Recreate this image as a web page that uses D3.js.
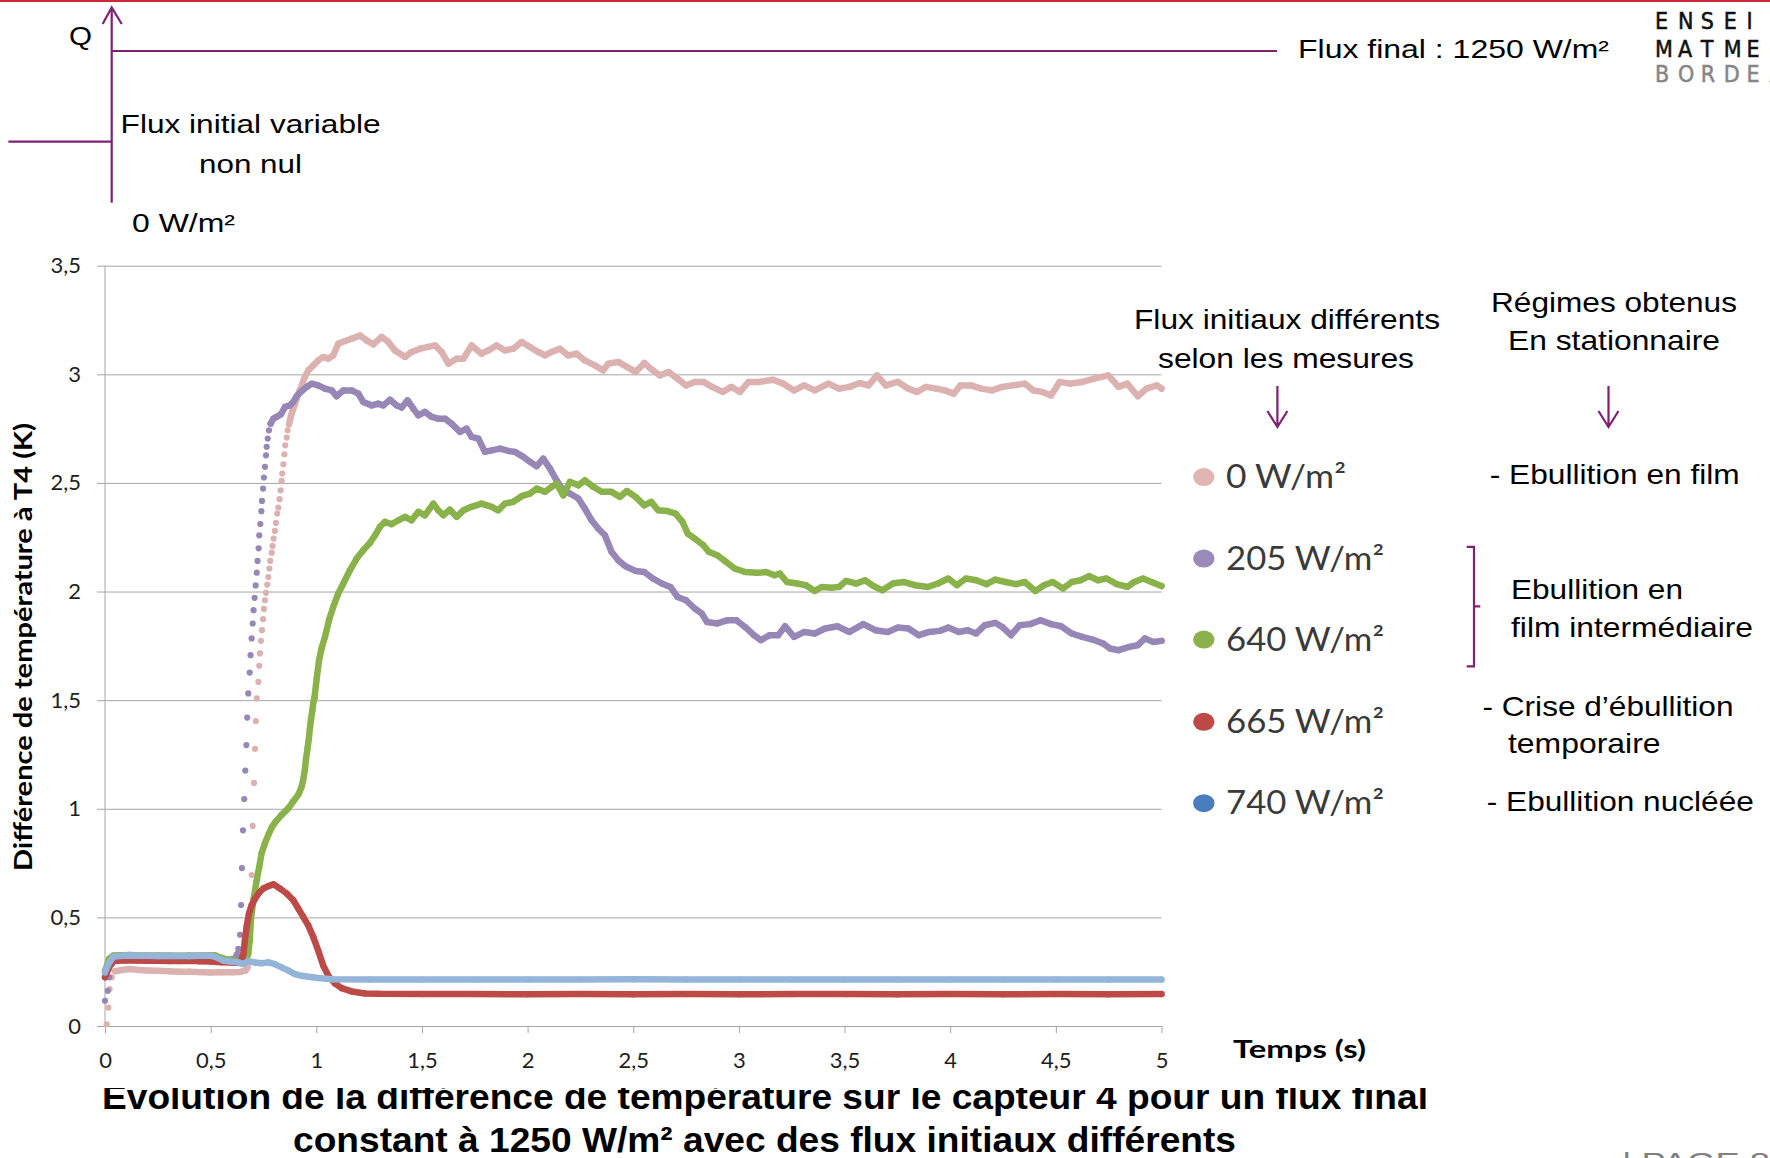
<!DOCTYPE html>
<html>
<head>
<meta charset="utf-8">
<script src="https://cdn.jsdelivr.net/npm/d3@7"></script>
<style>
  body { margin: 0; background: #fff; }
  svg { display: block; }
</style>
</head>
<body>
<svg id="slide" width="1770" height="1158"></svg>
<script>
// ---- values ----
var seriesNames = ["0 W/m²", "205 W/m²", "640 W/m²", "665 W/m²", "740 W/m²"];
var xTicks = [0, 0.5, 1, 1.5, 2, 2.5, 3, 3.5, 4, 4.5, 5];
var xTickLabels = ["0", "0,5", "1", "1,5", "2", "2,5", "3", "3,5", "4", "4,5", "5"];
var yTicks = [0, 0.5, 1, 1.5, 2, 2.5, 3, 3.5];
var yTickLabels = ["0", "0,5", "1", "1,5", "2", "2,5", "3", "3,5"];

// [time (s), dT (K)] -- continuous stretches of the trace
var flux0Trace = [[0.047,0.252],[0.08,0.258],[0.12,0.262],[0.16,0.258],[0.2,0.256],[0.25,0.254],[0.3,0.252],[0.35,0.25],[0.4,0.25],[0.45,0.248],[0.5,0.246],[0.55,0.247],[0.6,0.247],[0.64,0.249],[0.665,0.255],[0.675,0.27],
  [0.871,2.770],[0.877,2.794],[0.883,2.819],[0.891,2.842],[0.899,2.865],[0.907,2.888],[0.918,2.919],[0.931,2.949],[0.946,2.988],[0.962,3.018],[0.986,3.041],[1.009,3.064],[1.033,3.080],[1.057,3.072],[1.080,3.087],[1.104,3.141],[1.136,3.153],[1.167,3.164],[1.207,3.179],[1.238,3.156],[1.270,3.138],[1.309,3.172],[1.341,3.149],[1.372,3.110],[1.420,3.080],[1.451,3.103],[1.491,3.118],[1.530,3.126],[1.562,3.133],[1.593,3.103],[1.625,3.049],[1.664,3.072],[1.696,3.072],[1.735,3.133],[1.782,3.095],[1.814,3.110],[1.853,3.133],[1.893,3.110],[1.932,3.118],[1.972,3.149],[2.011,3.126],[2.050,3.103],[2.082,3.087],[2.114,3.103],[2.153,3.118],[2.192,3.087],[2.232,3.095],[2.271,3.064],[2.319,3.041],[2.358,3.018],[2.382,3.049],[2.429,3.057],[2.470,3.034],[2.511,3.011],[2.552,3.052],[2.593,3.018],[2.626,2.995],[2.667,3.011],[2.709,2.980],[2.750,2.949],[2.791,2.965],[2.832,2.965],[2.873,2.942],[2.923,2.919],[2.964,2.942],[3.005,2.919],[3.046,2.965],[3.095,2.965],[3.161,2.975],[3.210,2.957],[3.261,2.926],[3.309,2.949],[3.359,2.926],[3.424,2.957],[3.474,2.934],[3.523,2.942],[3.572,2.960],[3.613,2.949],[3.654,2.995],[3.695,2.949],[3.753,2.965],[3.802,2.934],[3.843,2.919],[3.885,2.942],[3.934,2.934],[3.975,2.926],[4.016,2.911],[4.049,2.949],[4.098,2.949],[4.148,2.934],[4.197,2.926],[4.246,2.942],[4.296,2.949],[4.353,2.957],[4.394,2.926],[4.435,2.919],[4.477,2.903],[4.518,2.965],[4.567,2.957],[4.625,2.965],[4.682,2.980],[4.748,2.995],[4.797,2.942],[4.838,2.957],[4.888,2.899],[4.929,2.934],[4.978,2.949],[5.0,2.934]];
// single samples where the signal jumps faster than the sampling
var flux0Dots = [[0.008,0.008],[0.016,0.085],[0.022,0.17],[0.032,0.224],[0.688,0.48],[0.694,0.695],[0.699,0.921],[0.705,1.119],[0.710,1.276],[0.714,1.404],[0.718,1.508],[0.726,1.584],[0.730,1.658],[0.733,1.715],[0.738,1.773],[0.743,1.822],[0.748,1.873],[0.752,1.920],[0.757,1.960],[0.762,1.994],[0.768,2.032],[0.773,2.067],[0.778,2.106],[0.782,2.141],[0.789,2.179],[0.793,2.210],[0.798,2.244],[0.804,2.279],[0.809,2.316],[0.815,2.359],[0.820,2.387],[0.826,2.425],[0.831,2.466],[0.836,2.509],[0.839,2.543],[0.844,2.586],[0.849,2.632],[0.853,2.673],[0.860,2.709],[0.864,2.742]];

var flux205Trace = [[0.032,0.285],[0.047,0.309],[0.08,0.315],[0.12,0.316],[0.16,0.314],[0.2,0.313],[0.25,0.312],[0.3,0.312],[0.35,0.311],[0.4,0.31],[0.45,0.31],[0.5,0.311],[0.55,0.31],[0.59,0.305],[0.615,0.31],[0.625,0.33],
  [0.784,2.773],[0.797,2.796],[0.812,2.804],[0.833,2.816],[0.852,2.850],[0.875,2.857],[0.891,2.873],[0.907,2.899],[0.931,2.923],[0.954,2.942],[0.978,2.957],[1.009,2.949],[1.041,2.934],[1.073,2.926],[1.096,2.899],[1.128,2.926],[1.167,2.926],[1.199,2.911],[1.222,2.873],[1.262,2.857],[1.293,2.865],[1.317,2.857],[1.349,2.883],[1.380,2.857],[1.404,2.847],[1.432,2.880],[1.459,2.842],[1.483,2.811],[1.514,2.827],[1.546,2.804],[1.577,2.796],[1.609,2.796],[1.640,2.773],[1.680,2.735],[1.711,2.750],[1.735,2.712],[1.767,2.704],[1.798,2.643],[1.830,2.650],[1.869,2.658],[1.909,2.647],[1.940,2.643],[1.980,2.620],[2.011,2.597],[2.043,2.577],[2.074,2.612],[2.106,2.566],[2.137,2.512],[2.169,2.466],[2.200,2.451],[2.240,2.428],[2.271,2.382],[2.303,2.328],[2.334,2.290],[2.366,2.259],[2.397,2.183],[2.429,2.144],[2.457,2.121],[2.470,2.113],[2.511,2.095],[2.552,2.090],[2.593,2.060],[2.635,2.037],[2.676,2.021],[2.709,1.975],[2.750,1.960],[2.791,1.922],[2.824,1.899],[2.849,1.860],[2.898,1.853],[2.947,1.868],[2.988,1.868],[3.029,1.837],[3.071,1.799],[3.104,1.776],[3.145,1.799],[3.186,1.799],[3.219,1.840],[3.261,1.791],[3.310,1.814],[3.359,1.807],[3.408,1.830],[3.466,1.840],[3.523,1.814],[3.589,1.850],[3.646,1.822],[3.704,1.814],[3.753,1.834],[3.802,1.830],[3.852,1.799],[3.901,1.814],[3.950,1.819],[3.991,1.834],[4.041,1.814],[4.082,1.822],[4.123,1.807],[4.164,1.845],[4.213,1.856],[4.246,1.837],[4.288,1.799],[4.329,1.845],[4.378,1.850],[4.428,1.868],[4.477,1.850],[4.526,1.840],[4.575,1.807],[4.625,1.791],[4.674,1.779],[4.723,1.761],[4.756,1.738],[4.797,1.730],[4.847,1.745],[4.888,1.753],[4.921,1.784],[4.962,1.768],[5.0,1.773]];
var flux205Dots = [[0.0,0.116],[0.013,0.162],[0.02,0.224],[0.631,0.355],[0.639,0.42],[0.644,0.557],[0.648,0.727],[0.653,0.901],[0.659,1.045],[0.664,1.176],[0.669,1.293],[0.673,1.42],[0.678,1.531],[0.685,1.627],[0.689,1.707],[0.694,1.784],[0.699,1.853],[0.703,1.914],[0.708,1.971],[0.713,2.028],[0.718,2.087],[0.722,2.141],[0.727,2.199],[0.730,2.259],[0.735,2.311],[0.740,2.370],[0.743,2.417],[0.748,2.474],[0.752,2.525],[0.757,2.574],[0.762,2.627],[0.765,2.666],[0.770,2.704],[0.776,2.742]];

var flux640Trace = [[0.0,0.255],[0.012,0.285],[0.019,0.309],[0.039,0.324],[0.08,0.326],[0.12,0.327],[0.16,0.325],[0.2,0.325],[0.25,0.324],[0.3,0.324],[0.35,0.323],[0.4,0.324],[0.45,0.324],[0.5,0.326],[0.52,0.325],[0.544,0.316],[0.584,0.304],[0.631,0.298],[0.662,0.293],[0.678,0.332],[0.685,0.394],[0.691,0.494],[0.702,0.579],[0.718,0.671],[0.730,0.733],[0.741,0.795],[0.757,0.841],[0.773,0.880],[0.789,0.914],[0.808,0.941],[0.836,0.972],[0.868,1.003],[0.891,1.034],[0.915,1.065],[0.931,1.103],[0.938,1.134],[0.946,1.181],[0.951,1.227],[0.959,1.281],[0.965,1.327],[0.970,1.373],[0.975,1.412],[0.981,1.451],[0.986,1.489],[0.991,1.508],[1.002,1.600],[1.013,1.684],[1.025,1.738],[1.041,1.791],[1.060,1.868],[1.080,1.929],[1.104,1.991],[1.128,2.037],[1.159,2.098],[1.191,2.152],[1.222,2.190],[1.254,2.224],[1.278,2.259],[1.301,2.298],[1.325,2.321],[1.356,2.310],[1.388,2.328],[1.420,2.344],[1.451,2.328],[1.483,2.367],[1.514,2.351],[1.554,2.405],[1.577,2.374],[1.601,2.351],[1.632,2.377],[1.664,2.344],[1.696,2.374],[1.735,2.390],[1.782,2.405],[1.830,2.390],[1.861,2.374],[1.893,2.405],[1.932,2.413],[1.972,2.439],[2.011,2.451],[2.043,2.474],[2.082,2.459],[2.114,2.482],[2.137,2.497],[2.169,2.443],[2.200,2.505],[2.240,2.489],[2.271,2.512],[2.311,2.482],[2.350,2.459],[2.397,2.459],[2.437,2.436],[2.470,2.463],[2.511,2.436],[2.552,2.397],[2.585,2.413],[2.618,2.374],[2.659,2.371],[2.700,2.359],[2.733,2.321],[2.758,2.267],[2.791,2.244],[2.832,2.213],[2.857,2.183],[2.898,2.167],[2.939,2.137],[2.980,2.106],[3.029,2.090],[3.087,2.086],[3.128,2.090],[3.169,2.075],[3.194,2.083],[3.227,2.044],[3.276,2.037],[3.317,2.029],[3.359,2.003],[3.392,2.021],[3.441,2.018],[3.474,2.021],[3.507,2.049],[3.556,2.037],[3.597,2.052],[3.638,2.025],[3.679,2.006],[3.729,2.037],[3.778,2.044],[3.835,2.029],[3.893,2.021],[3.942,2.037],[3.991,2.060],[4.032,2.029],[4.074,2.060],[4.123,2.052],[4.172,2.034],[4.213,2.055],[4.262,2.044],[4.312,2.034],[4.353,2.044],[4.403,2.003],[4.444,2.029],[4.485,2.044],[4.534,2.014],[4.575,2.044],[4.616,2.052],[4.658,2.071],[4.699,2.052],[4.740,2.060],[4.789,2.034],[4.838,2.021],[4.871,2.044],[4.912,2.060],[4.953,2.044],[5.0,2.025]];

var flux665Trace = [[0.0,0.224],[0.016,0.262],[0.032,0.293],[0.05,0.300],[0.1,0.302],[0.15,0.301],[0.2,0.300],[0.25,0.300],[0.3,0.299],[0.35,0.299],[0.4,0.300],[0.45,0.298],[0.5,0.297],[0.55,0.294],[0.6,0.292],[0.64,0.29],[0.655,0.332],[0.662,0.394],[0.670,0.455],[0.681,0.517],[0.694,0.556],[0.710,0.586],[0.729,0.613],[0.749,0.633],[0.773,0.644],[0.797,0.652],[0.828,0.633],[0.860,0.610],[0.891,0.579],[0.915,0.540],[0.938,0.502],[0.962,0.463],[0.986,0.409],[1.009,0.347],[1.033,0.278],[1.057,0.231],[1.088,0.196],[1.120,0.174],[1.167,0.159],[1.230,0.150],[1.3,0.148],[1.5,0.147],[1.75,0.147],[2.0,0.146],[2.25,0.147],[2.5,0.146],[2.75,0.147],[3.0,0.146],[3.25,0.147],[3.5,0.147],[3.75,0.146],[4.0,0.147],[4.25,0.146],[4.5,0.147],[4.75,0.146],[5.0,0.147]];

var flux740Trace = [[0.0,0.247],[0.016,0.285],[0.039,0.319],[0.08,0.323],[0.12,0.324],[0.16,0.323],[0.2,0.323],[0.25,0.322],[0.3,0.323],[0.35,0.322],[0.4,0.322],[0.45,0.323],[0.505,0.323],[0.536,0.313],[0.56,0.301],[0.6,0.296],[0.631,0.293],[0.655,0.285],[0.678,0.298],[0.71,0.292],[0.741,0.289],[0.773,0.293],[0.804,0.285],[0.836,0.270],[0.868,0.255],[0.899,0.239],[0.931,0.231],[0.962,0.227],[1.009,0.221],[1.073,0.215],[1.25,0.214],[1.5,0.214],[1.75,0.214],[2.0,0.214],[2.25,0.214],[2.5,0.215],[2.75,0.214],[3.0,0.214],[3.25,0.214],[3.5,0.214],[3.75,0.214],[4.0,0.214],[4.25,0.214],[4.5,0.214],[4.75,0.214],[5.0,0.214]];

var traces = [flux0Trace, flux205Trace, flux640Trace, flux665Trace, flux740Trace];
var samples = [flux0Dots, flux205Dots, [], [], []];
var regimes = ["- Ebullition en film", "Ebullition en", "film intermédiaire", "- Crise d’ébullition", "temporaire", "- Ebullition nucléée"];
var titleLines = ["Evolution de la différence de température sur le capteur 4 pour un flux final",
                  "constant à 1250 W/m² avec des flux initiaux différents"];

// ---- look ----
var lineColors = ["#dcb2b1", "#9787b7", "#8ab24b", "#bd4a47", "#95b4da"],
    legendColors = ["#e2b5b4", "#9a8aba", "#8cb14a", "#be4a48", "#4a7dbb"],
    purple = "#7e2172",
    arial = "'Liberation Sans', Arial, sans-serif",
    calibri = "Lato, 'Open Sans', sans-serif";

var svg = d3.select("#slide");

// small helper: text stretched to the width it has on the slide
function put(parent, str, x, y, size, width, anchor) {
  var t = parent.append("text").attr("x", x).attr("y", y).attr("font-size", size).text(str);
  if (anchor) t.attr("text-anchor", anchor);
  if (width) t.attr("textLength", width).attr("lengthAdjust", "spacingAndGlyphs");
  return t;
}

svg.append("rect").attr("width", 1770).attr("height", 1158).attr("fill", "#fff");
svg.append("rect").attr("width", 1770).attr("height", 2).attr("fill", "#cc2936");

// caption (its top gets hidden under the chart picture, as on the slide)
var cap = svg.append("g").attr("font-family", arial).attr("font-weight", "bold").attr("fill", "#000");
put(cap, titleLines[0], 765, 1109, 35, 1326, "middle");
put(cap, titleLines[1], 764.5, 1151.7, 35, 943, "middle");
svg.append("rect").attr("x", 0).attr("y", 1066).attr("width", 1450).attr("height", 22).attr("fill", "#fff");
put(svg.append("g").attr("font-family", arial).attr("fill", "#808080"), "| PAGE 8", 1622, 1171, 26, 148);

// ---- chart ----
var x = d3.scaleLinear().domain([0, 5]).range([105, 1161.5]),
    y = d3.scaleLinear().domain([0, 3.5]).range([1026, 265.7]);
var chart = svg.append("g");

var yAxis = d3.axisLeft(y).tickValues(yTicks)
  .tickSize(-(x.range()[1] - x.range()[0])).tickPadding(24)
  .tickFormat(function (d, i) { return yTickLabels[i]; });
var gy = chart.append("g").attr("transform", "translate(" + x(0) + ",0)").call(yAxis);
gy.select(".domain").attr("stroke", "#a6a6a6").attr("d", "M0," + y(3.5) + "V" + y(0));
gy.selectAll(".tick line").attr("x1", -8).attr("stroke", "#a6a6a6");
gy.selectAll(".tick text").attr("font-family", calibri).attr("font-size", 22).attr("fill", "#1e1e1e");

var xAxis = d3.axisBottom(x).tickValues(xTicks).tickSize(7).tickSizeOuter(0)
  .tickFormat(function (d, i) { return xTickLabels[i]; });
var gx = chart.append("g").attr("transform", "translate(0," + y(0) + ")").call(xAxis);
gx.select(".domain").attr("stroke", "#a6a6a6");
gx.selectAll(".tick line").attr("stroke", "#a6a6a6");
gx.selectAll(".tick text").attr("y", 42).attr("dy", 0)
  .attr("font-family", calibri).attr("font-size", 22).attr("fill", "#1e1e1e");

put(chart.append("g").attr("font-family", calibri).attr("font-weight", "bold"),
  "Temps (s)", 1233, 1058, 24, 133);
put(chart.append("g").attr("font-family", calibri).attr("font-weight", "bold")
  .attr("transform", "translate(32,647) rotate(-90)"),
  "Différence de température à T4 (K)", 0, 0, 24, 448, "middle");

// break a trace where single samples sit between two of its points
// (the fast jump is drawn as separate dots, not as a line)
function runs(pts, dots) {
  var out = [], cur = [];
  pts.forEach(function (p, i) {
    if (i > 0) {
      var t0 = pts[i - 1][0];
      var between = dots.some(function (d) { return d[0] > t0 && d[0] < p[0]; });
      if (between) { out.push(cur); cur = []; }
    }
    cur.push(p);
  });
  out.push(cur);
  return out;
}

var line = d3.line().x(function (d) { return x(d[0]); }).y(function (d) { return y(d[1]); });

traces.forEach(function (tr, s) {
  var g = chart.append("g").attr("class", "series");
  g.selectAll("path").data(runs(tr, samples[s])).enter().append("path")
    .attr("d", line).attr("fill", "none").attr("stroke", lineColors[s])
    .attr("stroke-width", 6.5).attr("stroke-linejoin", "round").attr("stroke-linecap", "round");
  g.selectAll("circle").data(tr.concat(samples[s])).enter().append("circle")
    .attr("cx", function (d) { return x(d[0]); }).attr("cy", function (d) { return y(d[1]); })
    .attr("r", 3.1).attr("fill", lineColors[s]);
});

// ---- legend (ellipses: the slide is stretched sideways) ----
var leg = chart.append("g").attr("font-family", calibri).attr("fill", "#3a3a3a");
var legY = [477.1, 558.6, 639.6, 721.8, 803.2];
seriesNames.forEach(function (n, i) {
  leg.append("ellipse").attr("cx", 1203.8).attr("cy", legY[i]).attr("rx", 10.7).attr("ry", 9)
    .attr("fill", legendColors[i]);
  put(leg, n, 1226, legY[i] + 11, 32, i === 0 ? 120 : 158);
});

// ---- slide annotations ----
var note = svg.append("g").attr("font-family", arial).attr("fill", "#000");
var ink = svg.append("g").attr("fill", "none").attr("stroke", purple).attr("stroke-width", 2.2);

// flux step sketch
ink.append("path").attr("d", "M111.7,8V202.7");
ink.append("path").attr("d", "M102.6,24L111.7,7.5L121.7,24");
ink.append("path").attr("d", "M111.7,51H1277");
ink.append("path").attr("d", "M8.4,141.7H111.7");
put(note, "Q", 69, 45, 26, 23);
put(note, "Flux initial variable", 120.6, 133.3, 26, 260);
put(note, "non nul", 199, 173.3, 26, 103);
put(note, "0 W/m²", 132, 231.7, 26, 103);
put(note, "Flux final : 1250 W/m²", 1298, 58, 26, 311);

// right-hand column headers and arrows
put(note, "Flux initiaux différents", 1287, 328.9, 28, 306, "middle");
put(note, "selon les mesures", 1286, 368.2, 28, 256, "middle");
put(note, "Régimes obtenus", 1614, 311.8, 28, 246, "middle");
put(note, "En stationnaire", 1614, 350.4, 28, 212, "middle");
[1277.4, 1608.5].forEach(function (ax) {
  ink.append("path").attr("d", "M" + ax + ",386V427M" + (ax - 10) + ",411L" + ax + ",427L" + (ax + 10) + ",411");
});

// regimes
put(note, regimes[0], 1489.7, 484.3, 28, 250);
ink.append("path").attr("d", "M1466.7,546.8H1474V666.4H1466.7M1474,606.4H1480.3");
put(note, regimes[1], 1511, 598.6, 28, 172);
put(note, regimes[2], 1511, 636.8, 28, 242);
put(note, regimes[3], 1482.5, 715.7, 28, 251);
put(note, regimes[4], 1508, 753, 28, 152.6);
put(note, regimes[5], 1486.8, 811, 28, 267);

// school logo, cut by the slide edge
var logoRows = ["ENSEIRB", "MATMECA", "BORDEAUX"], logoY = [28.5, 57, 82];
logoRows.forEach(function (w, r) {
  svg.append("text").attr("font-family", "'DejaVu Sans Condensed', 'DejaVu Sans', sans-serif")
    .attr("font-size", 23).attr("fill", r === 2 ? "#868686" : "#111")
    .attr("stroke", r === 2 ? "#868686" : "#111").attr("stroke-width", 0.5)
    .attr("x", w.split("").map(function (c, i) { return 1655 + i * 22.9; }).join(" "))
    .attr("y", logoY[r]).text(w);
});
</script>
</body>
</html>
